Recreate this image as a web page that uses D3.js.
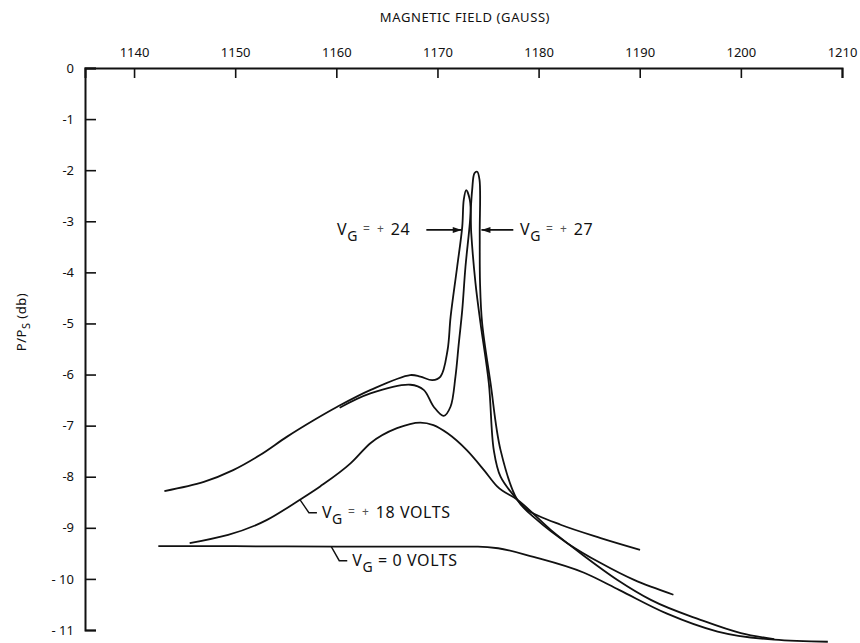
<!DOCTYPE html>
<html>
<head>
<meta charset="utf-8">
<script src="https://cdn.jsdelivr.net/npm/d3@7"></script>
<style>
  body { margin: 0; background: #fff; }
  text { font-family: "Noto Sans", sans-serif; fill: #111; }
</style>
</head>
<body>
<div id="viz"></div>
<script>
const width = 860;
const height = 643;
const margin = {top: 68, right: 18, bottom: 13, left: 85};

// tick values
const gaussTicks = [1140, 1150, 1160, 1170, 1180, 1190, 1200, 1210];
const dbTicks = [0, -1, -2, -3, -4, -5, -6, -7, -8, -9, -10, -11];

// V_G = +24 (long curve, lower peak)
const vg24Gauss = [1143.0, 1146.9, 1149.8, 1152.5, 1155.1, 1157.8, 1160.1, 1163.4, 1167.3, 1168.3, 1169.5, 1170.3, 1171.0, 1171.3, 1171.95, 1172.45, 1172.6, 1172.84, 1173.2, 1173.34, 1173.76, 1174.26, 1175.08, 1175.57, 1176.24, 1177.89, 1178.88, 1182.18, 1186.14, 1190.03];
const vg24Db    = [-8.28, -8.10, -7.87, -7.57, -7.22, -6.89, -6.63, -6.30, -6.01, -6.04, -6.11, -6.04, -5.52, -4.87, -3.89, -3.11, -2.58, -2.39, -2.58, -3.23, -4.21, -5.00, -6.17, -7.48, -8.00, -8.45, -8.65, -8.94, -9.20, -9.43];

// V_G = +27 (short curve, tall peak)
const vg27Gauss = [1160.33, 1163.37, 1167.33, 1168.64, 1169.63, 1170.62, 1171.29, 1171.78, 1172.11, 1172.45, 1172.77, 1173.2, 1173.43, 1173.66, 1173.93, 1174.16, 1174.18, 1174.21, 1174.42, 1175.25, 1176.24, 1177.89, 1179.87, 1182.84, 1186.14, 1189.44, 1193.33];
const vg27Db    = [-6.65, -6.37, -6.20, -6.30, -6.63, -6.81, -6.63, -6.04, -5.39, -4.74, -3.89, -3.04, -2.39, -2.06, -2.03, -2.19, -3.23, -4.21, -5.00, -6.17, -7.48, -8.45, -8.85, -9.30, -9.69, -10.02, -10.31];

// V_G = +18 volts
const vg18Gauss = [1145.5, 1153.1, 1156.4, 1158.4, 1161.4, 1163.4, 1166.0, 1168.3, 1169.6, 1171.0, 1172.9, 1174.6, 1175.9, 1177.9, 1181.2, 1184.5, 1187.8, 1191.1, 1196.0, 1200.0, 1203.3];
const vg18Db    = [-9.30, -8.85, -8.45, -8.19, -7.74, -7.34, -7.05, -6.94, -6.99, -7.15, -7.48, -7.87, -8.19, -8.45, -9.04, -9.55, -10.02, -10.41, -10.80, -11.06, -11.18];

// V_G = 0 volts
const vg0Gauss = [1142.4, 1150.0, 1160.0, 1170.0, 1174.0, 1176.0, 1179.5, 1184.5, 1188.0, 1192.7, 1197.7, 1203.3, 1208.6];
const vg0Db    = [-9.36, -9.36, -9.37, -9.37, -9.37, -9.40, -9.57, -9.88, -10.22, -10.68, -11.03, -11.19, -11.23];

// peaked curves double back slightly in x, so they keep Catmull-Rom
const curves = [
  {name: '+24', gauss: vg24Gauss, db: vg24Db, monotone: false},
  {name: '+27', gauss: vg27Gauss, db: vg27Db, monotone: false},
  {name: '+18', gauss: vg18Gauss, db: vg18Db, monotone: true},
  {name: '0', gauss: vg0Gauss, db: vg0Db, monotone: true}
];

const xScale = d3.scaleLinear()
  .domain([1135.15, 1210])
  .range([margin.left, width - margin.right]);

const yScale = d3.scaleLinear()
  .domain([0, -11])
  .range([margin.top, height - margin.bottom]);

const svg = d3.select('#viz')
  .append('svg')
    .attr('width', width)
    .attr('height', height)
    .attr('viewBox', [0, 0, width, height]);

// top axis, ticks pointing down into the plot
const xAxis = svg.append('g')
  .attr('transform', `translate(0, ${margin.top})`)
  .call(d3.axisTop(xScale).tickValues(gaussTicks).tickSize(-10).tickSizeOuter(-10).tickPadding(11).tickFormat(d3.format('d')));

// left axis, ticks pointing right
const yAxis = svg.append('g')
  .attr('transform', `translate(${margin.left}, 0)`)
  .call(d3.axisLeft(yScale).tickValues(dbTicks).tickSize(-11).tickSizeOuter(-11).tickPadding(11)
    .tickFormat(d => d === 0 ? '0' : (d <= -10 ? '- ' : '-') + Math.abs(d)));

[xAxis, yAxis].forEach(ax => {
  ax.selectAll('path, line').attr('stroke', '#111').attr('stroke-width', 2);
  ax.selectAll('text').attr('font-size', 13).attr('fill', '#111');
});
xAxis.selectAll('.tick line').attr('stroke-width', 1.6);
yAxis.selectAll('.tick line').attr('stroke-width', 1.6);

// axis titles
svg.append('text')
  .attr('x', 465)
  .attr('y', 22)
  .attr('text-anchor', 'middle')
  .attr('font-size', 13)
  .attr('letter-spacing', 0.6)
  .text('MAGNETIC FIELD (GAUSS)');

const yTitle = svg.append('text')
  .attr('transform', 'translate(26, 322) rotate(-90)')
  .attr('text-anchor', 'middle')
  .attr('font-size', 13)
  .attr('letter-spacing', 0.5);
yTitle.append('tspan').text('P/P');
yTitle.append('tspan').attr('dy', 4).attr('font-size', 11).text('S');
yTitle.append('tspan').attr('dy', -4).text(' (db)');

// curves
const lineCR = d3.line()
  .x(d => xScale(d[0]))
  .y(d => yScale(d[1]))
  .curve(d3.curveCatmullRom.alpha(0.5));

const lineMono = d3.line()
  .x(d => xScale(d[0]))
  .y(d => yScale(d[1]))
  .curve(d3.curveMonotoneX);

svg.append('g')
  .selectAll('path')
  .data(curves)
  .join('path')
    .attr('d', c => (c.monotone ? lineMono : lineCR)(c.gauss.map((g, i) => [g, c.db[i]])))
    .attr('fill', 'none')
    .attr('stroke', '#111')
    .attr('stroke-width', 1.8);

// V_G label helper
function vgLabel(x, y, value) {
  const t = svg.append('text').attr('x', x).attr('y', y).attr('font-size', 16).attr('letter-spacing', 0.6);
  t.append('tspan').text('V');
  t.append('tspan').attr('dy', 6).attr('font-size', 14).text('G');
  t.append('tspan').attr('dy', -8).attr('font-size', 12).attr('fill', '#555').attr('letter-spacing', 2).text(' = +');
  t.append('tspan').attr('dy', 2).text(' ' + value);
  return t;
}

function vgLabelPlain(x, y, value) {
  const t = svg.append('text').attr('x', x).attr('y', y).attr('font-size', 16).attr('letter-spacing', 0.6);
  t.append('tspan').text('V');
  t.append('tspan').attr('dy', 6).attr('font-size', 14).text('G');
  t.append('tspan').attr('dy', -6).text(' = ' + value);
  return t;
}

// arrows for +24 and +27
const arrowDb = -3.17;
const ay = yScale(arrowDb);
function arrow(x0, x1) {
  svg.append('line')
    .attr('x1', x0).attr('y1', ay).attr('x2', x1).attr('y2', ay)
    .attr('stroke', '#111').attr('stroke-width', 1.8);
  const dir = x1 > x0 ? 1 : -1;
  svg.append('path')
    .attr('d', `M${x1},${ay} L${x1 - dir * 9},${ay - 3} L${x1 - dir * 9},${ay + 3} Z`)
    .attr('fill', '#111');
}
arrow(xScale(1168.9), xScale(1172.4));
arrow(xScale(1177.5), xScale(1174.35));
vgLabel(337, ay + 5, '24');
vgLabel(520, ay + 5, '27');

// leaders for +18 and 0 volts
const l18x = xScale(1156.4), l18y = yScale(-8.45);
svg.append('path')
  .attr('d', `M${l18x},${l18y} L${l18x + 9},${l18y + 13} L${l18x + 17},${l18y + 13}`)
  .attr('fill', 'none').attr('stroke', '#111').attr('stroke-width', 1.4);
vgLabel(l18x + 22, l18y + 18, '18 VOLTS');

const l0x = xScale(1159.5), l0y = yScale(-9.37);
svg.append('path')
  .attr('d', `M${l0x},${l0y} L${l0x + 8},${l0y + 14} L${l0x + 16},${l0y + 14}`)
  .attr('fill', 'none').attr('stroke', '#111').attr('stroke-width', 1.4);
vgLabelPlain(l0x + 21, l0y + 19, '0 VOLTS');
</script>
</body>
</html>
